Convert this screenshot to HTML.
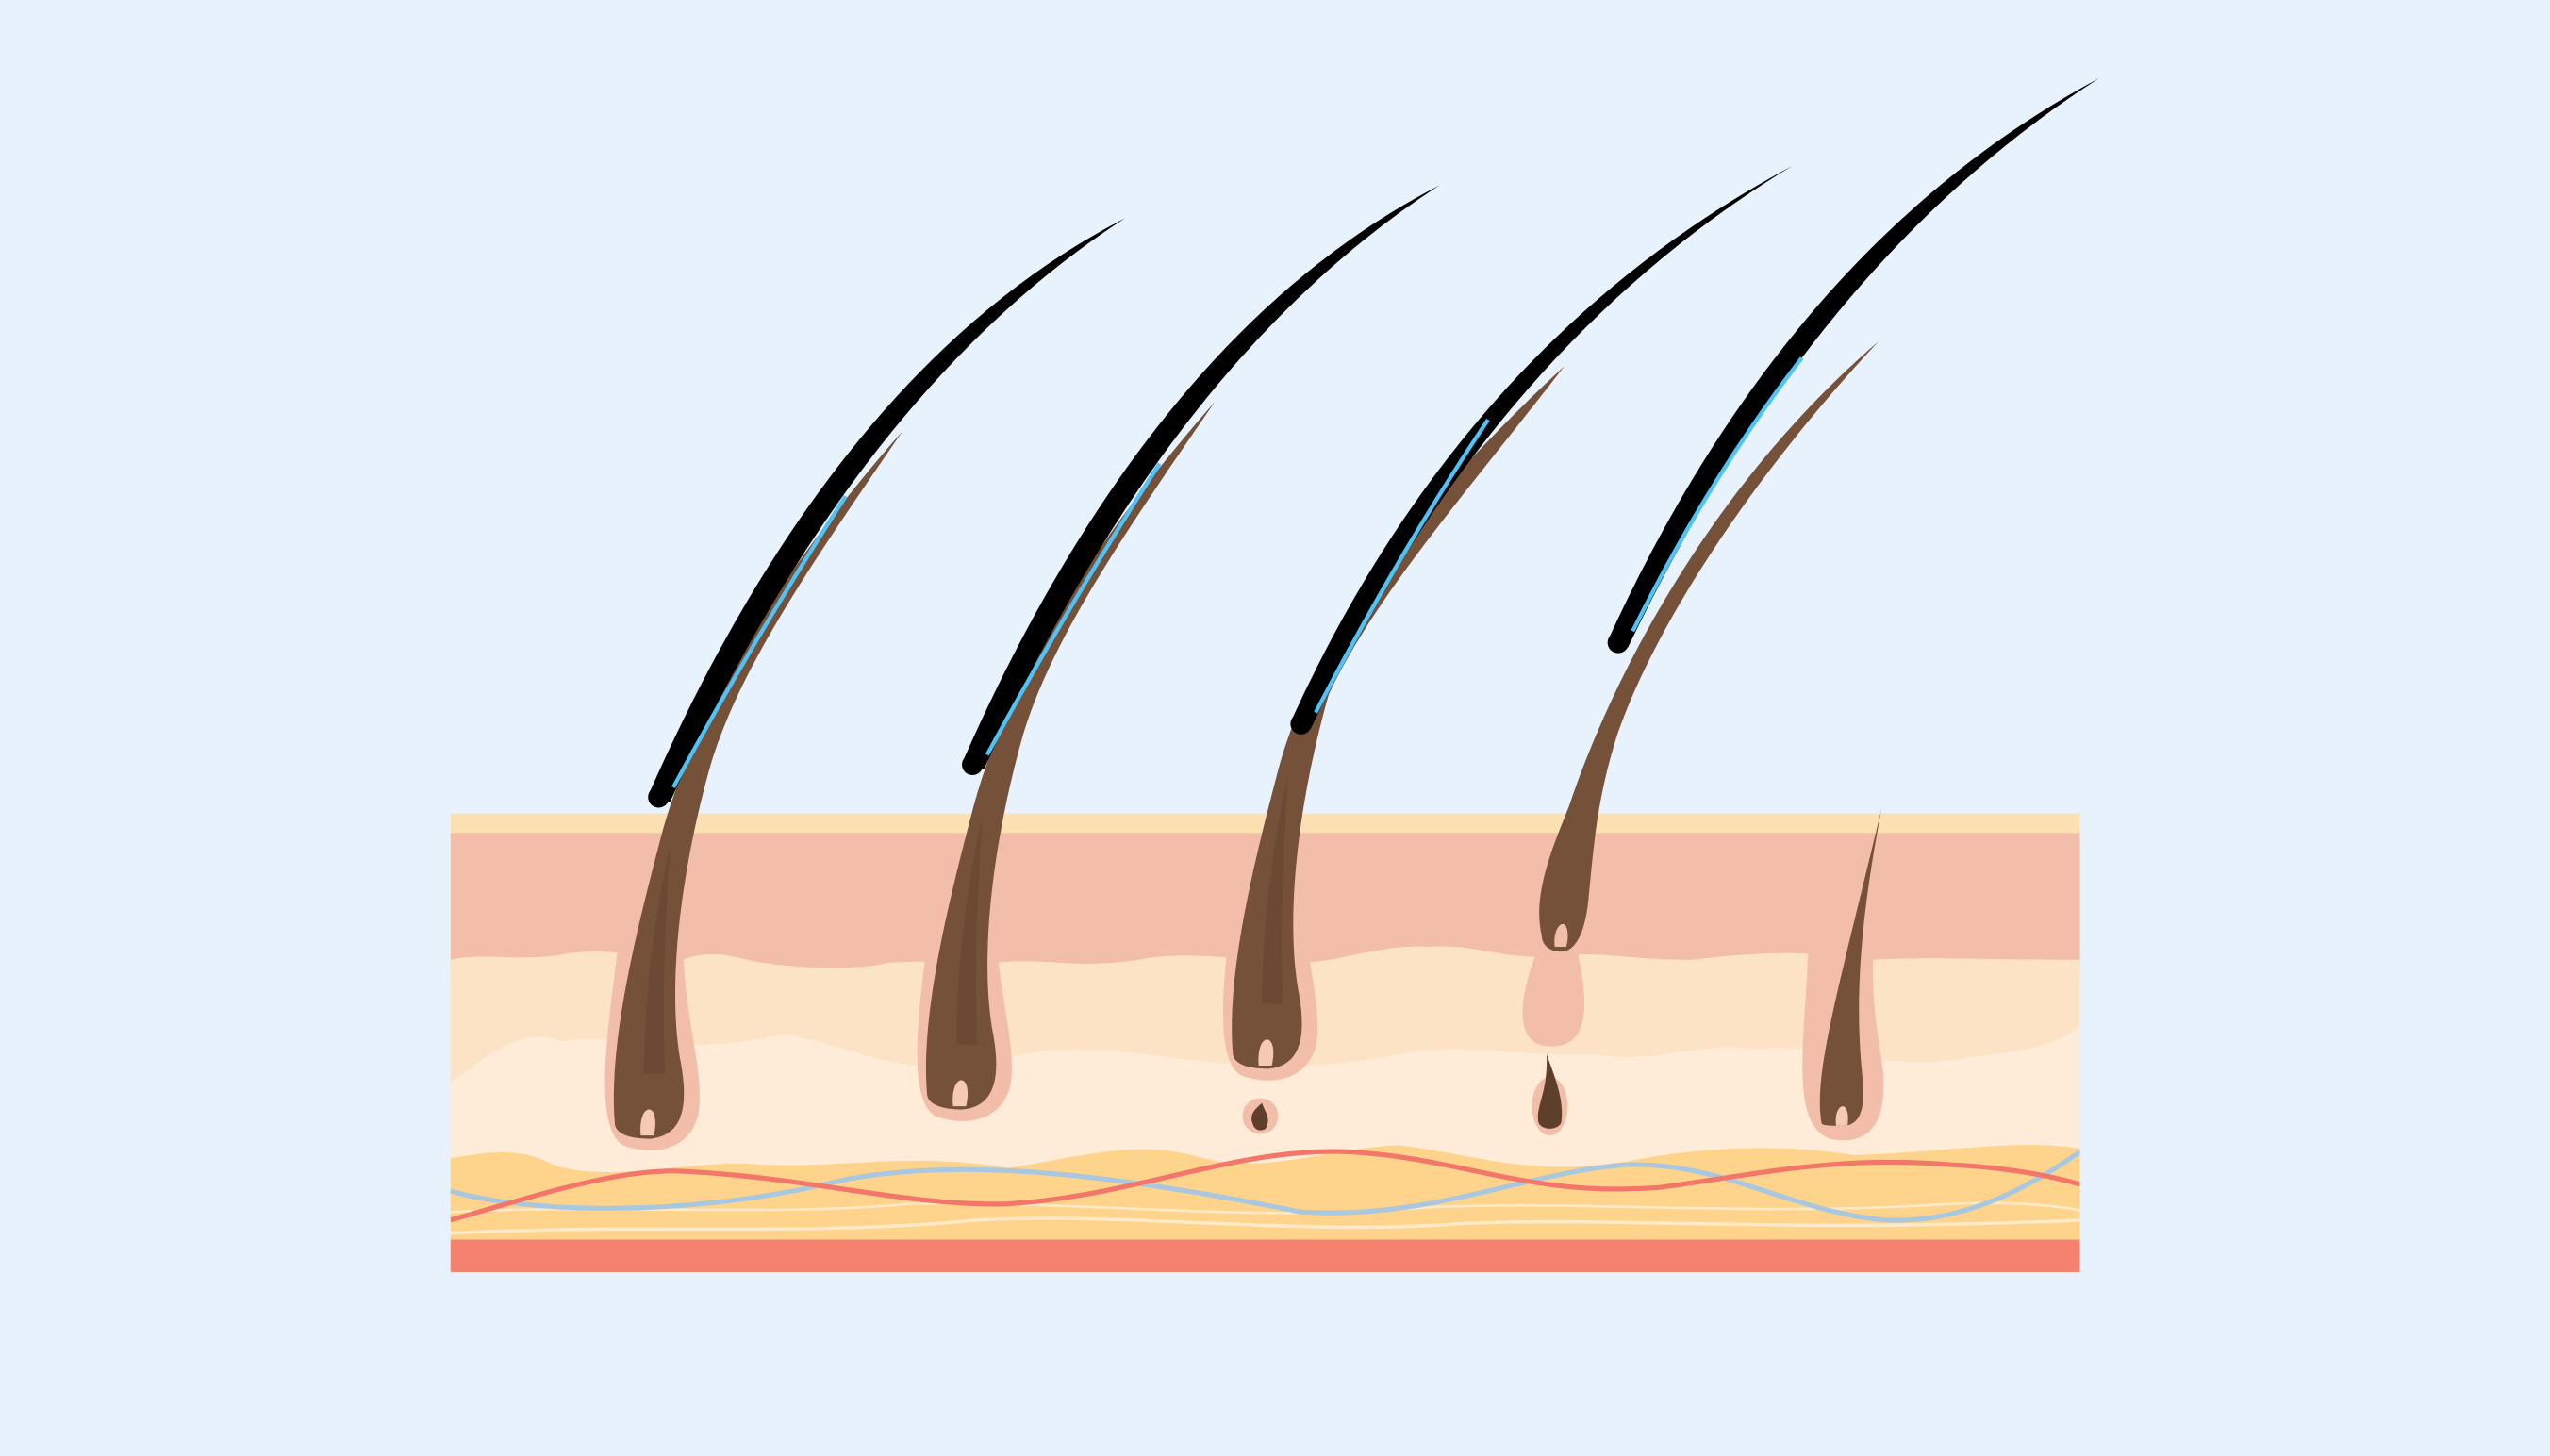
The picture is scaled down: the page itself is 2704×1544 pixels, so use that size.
<!DOCTYPE html>
<html><head><meta charset="utf-8"><style>
html,body{margin:0;padding:0;background:#e8f2fd;}
svg{display:block;}
</style></head><body>
<svg width="2704" height="1544" viewBox="0 0 1568 895" preserveAspectRatio="none" xmlns="http://www.w3.org/2000/svg">
<rect width="1568" height="895" fill="#e8f2fd"/>
<defs>
  <clipPath id="skin"><rect x="277" y="500" width="1002" height="282"/></clipPath>
  <g id="sheath">
    <path d="M382,560 C380,600 360,690 383,704 C405,712 428,705 430,680 C432,650 418,620 420,560 Z" fill="#f2bda9"/>
  </g>
</defs>

<g clip-path="url(#skin)">
<rect x="277" y="500" width="1002" height="14" fill="#fde0b2"/>
<rect x="277" y="512" width="1002" height="90" fill="#f2bda9"/>
<path d="M277,590 C300,585 320,592 350,586 C380,582 390,590 420,590 C440,582 455,590 470,592 C500,596 530,596 545,592 C570,590 580,592 610,592 C640,588 660,596 700,590 C730,584 760,590 800,592 C830,590 850,580 880,582 C910,580 920,590 960,588 C980,584 1000,590 1040,590 C1060,588 1100,582 1150,590 C1180,588 1230,590 1279,590 L1279,800 L277,800 Z" fill="#fde3c6"/>
<path d="M277,665 C300,650 320,630 345,640 C380,635 420,650 480,636 C520,640 540,660 600,655 C650,640 680,645 720,650 C760,655 800,660 860,648 C900,640 930,650 980,648 C1020,655 1040,640 1080,645 C1120,640 1160,660 1210,650 C1250,646 1270,640 1279,630 L1279,800 L277,800 Z" fill="#feecd8"/>
<path d="M277,712 C300,708 320,705 340,716 C380,728 420,712 470,716 C520,718 560,708 620,718 C670,710 700,700 740,712 C780,722 820,705 860,704 C900,708 940,724 1000,714 C1040,706 1090,702 1140,710 C1200,708 1240,700 1279,706 L1279,800 L277,800 Z" fill="#fed48c"/>
<rect x="277" y="762" width="1002" height="20" fill="#f4826e"/>
<path d="M277,758 C400,752 500,760 600,750 C700,745 800,760 900,752 C1000,748 1100,758 1279,750" stroke="#fee9c8" stroke-width="2" fill="none"/>
<path d="M277,745 C380,740 470,748 560,740 C680,738 760,752 880,742 C980,738 1080,748 1200,740 C1240,738 1270,742 1279,744" stroke="#fee9c8" stroke-width="1.5" fill="none"/>
<path d="M277,732 C320,745 420,750 520,725 C600,710 700,725 800,745 C880,750 940,720 1000,716 C1060,714 1100,745 1160,750 C1210,752 1250,728 1279,708" stroke="#a9c8df" stroke-width="3" fill="none"/>
<path d="M277,750 C330,735 380,718 420,720 C500,724 560,742 620,740 C700,735 760,705 830,708 C900,712 940,736 1020,730 C1080,722 1130,710 1200,716 C1240,718 1265,724 1279,728" stroke="#f2766a" stroke-width="3" fill="none"/>
</g>

<!-- sheaths -->
<use href="#sheath"/>
<use href="#sheath" transform="translate(192,-18)"/>
<use href="#sheath" transform="translate(380,-43)"/>
<path d="M945,585 C935,610 930,640 950,643 C972,645 980,630 970,585 Z" fill="#f2bda9"/>
<path d="M1112,580 C1110,640 1100,690 1125,700 C1150,705 1160,690 1158,660 C1156,640 1150,620 1152,580 Z" fill="#f2bda9"/>

<!-- root 1 -->
<path d="M378,690 C374,640 392,570 405,520 C425,440 480,350 555,265 C500,345 455,410 437,470 C420,530 410,600 418,650 C424,680 420,698 400,700 C385,700 378,696 378,690 Z" fill="#76513a"/>
<path d="M396,660 C396,610 403,560 412,520 C409,570 407,615 409,660 Z" fill="#5e3f2c" opacity="0.4"/>
<path d="M394,698 C393,688 396,682 399,682 C403,682 404,690 402,698 Z" fill="#f6c9b4"/>
<!-- root 2 -->
<path d="M570,672 C566,622 584,552 597,502 C617,422 672,332 747,247 C692,327 647,392 629,452 C612,512 602,582 610,632 C616,662 612,680 592,682 C577,682 570,678 570,672 Z" fill="#76513a"/>
<path d="M588,642 C588,592 595,542 604,502 C601,552 599,597 601,642 Z" fill="#5e3f2c" opacity="0.4"/>
<path d="M586,680 C585,670 588,664 591,664 C595,664 596,672 594,680 Z" fill="#f6c9b4"/>
<!-- root 3 -->
<path d="M758,647 C754,597 772,527 785,477 C805,397 870,310 962,225 C900,305 845,367 817,427 C800,487 790,557 798,607 C804,637 800,655 780,657 C765,657 758,653 758,647 Z" fill="#76513a"/>
<path d="M776,617 C776,567 783,517 792,477 C789,527 787,572 789,617 Z" fill="#5e3f2c" opacity="0.4"/>
<path d="M774,655 C773,645 776,639 779,639 C783,639 784,647 782,655 Z" fill="#f6c9b4"/>
<!-- root 4 -->
<path d="M948,575 C942,550 955,520 965,495 C990,420 1050,300 1155,210 C1080,290 1020,380 995,450 C982,490 980,520 977,550 C975,575 968,585 960,585 C952,585 948,580 948,575 Z" fill="#76513a"/>
<path d="M956,582 C955,574 958,568 961,568 C964,568 965,576 963,582 Z" fill="#f2bda9"/>
<!-- hair 5 -->
<path d="M1120,690 C1115,660 1130,610 1157,497 C1145,560 1140,610 1145,660 C1148,685 1142,692 1133,692 C1125,692 1120,692 1120,690 Z" fill="#76513a"/>
<path d="M1129,692 C1128,684 1131,680 1133,680 C1136,680 1137,686 1136,692 Z" fill="#f6c9b4"/>
<!-- small bulbs -->
<circle cx="775" cy="686" r="11" fill="#f2bda9"/>
<path d="M770,690 C768,684 774,680 776,678 C778,684 782,688 778,694 C774,696 771,694 770,690 Z" fill="#5e3f2c"/>
<ellipse cx="953" cy="680" rx="11" ry="18" fill="#f2bda9"/>
<path d="M946,690 C944,680 952,672 951,648 C956,662 962,676 960,690 C958,695 948,695 946,690 Z" fill="#5e3f2c"/>

<!-- shafts -->
<path d="M399,488 Q515,225 692,134 Q525,242 412,493 Z" fill="#000"/>
<circle cx="405" cy="490" r="6.5" fill="#000"/>
<path d="M414,484 Q465,390 520,305" stroke="#4fc3f7" stroke-width="2.5" fill="none"/>

<path d="M592,468 Q708,205 885,114 Q718,222 605,473 Z" fill="#000"/>
<circle cx="598" cy="470" r="6.5" fill="#000"/>
<path d="M607,464 Q658,370 713,285" stroke="#4fc3f7" stroke-width="2.5" fill="none"/>

<path d="M794,443 Q900,210 1102,102 Q915,215 806,448 Z" fill="#000"/>
<circle cx="800" cy="445" r="6.5" fill="#000"/>
<path d="M809,438 Q860,340 915,258" stroke="#4fc3f7" stroke-width="2.5" fill="none"/>

<path d="M989,393 Q1100,150 1291,48 Q1115,160 1001,398 Z" fill="#000"/>
<circle cx="995" cy="395" r="6.5" fill="#000"/>
<path d="M1004,388 Q1050,295 1108,220" stroke="#4fc3f7" stroke-width="2.5" fill="none"/>
</svg>
</body></html>
